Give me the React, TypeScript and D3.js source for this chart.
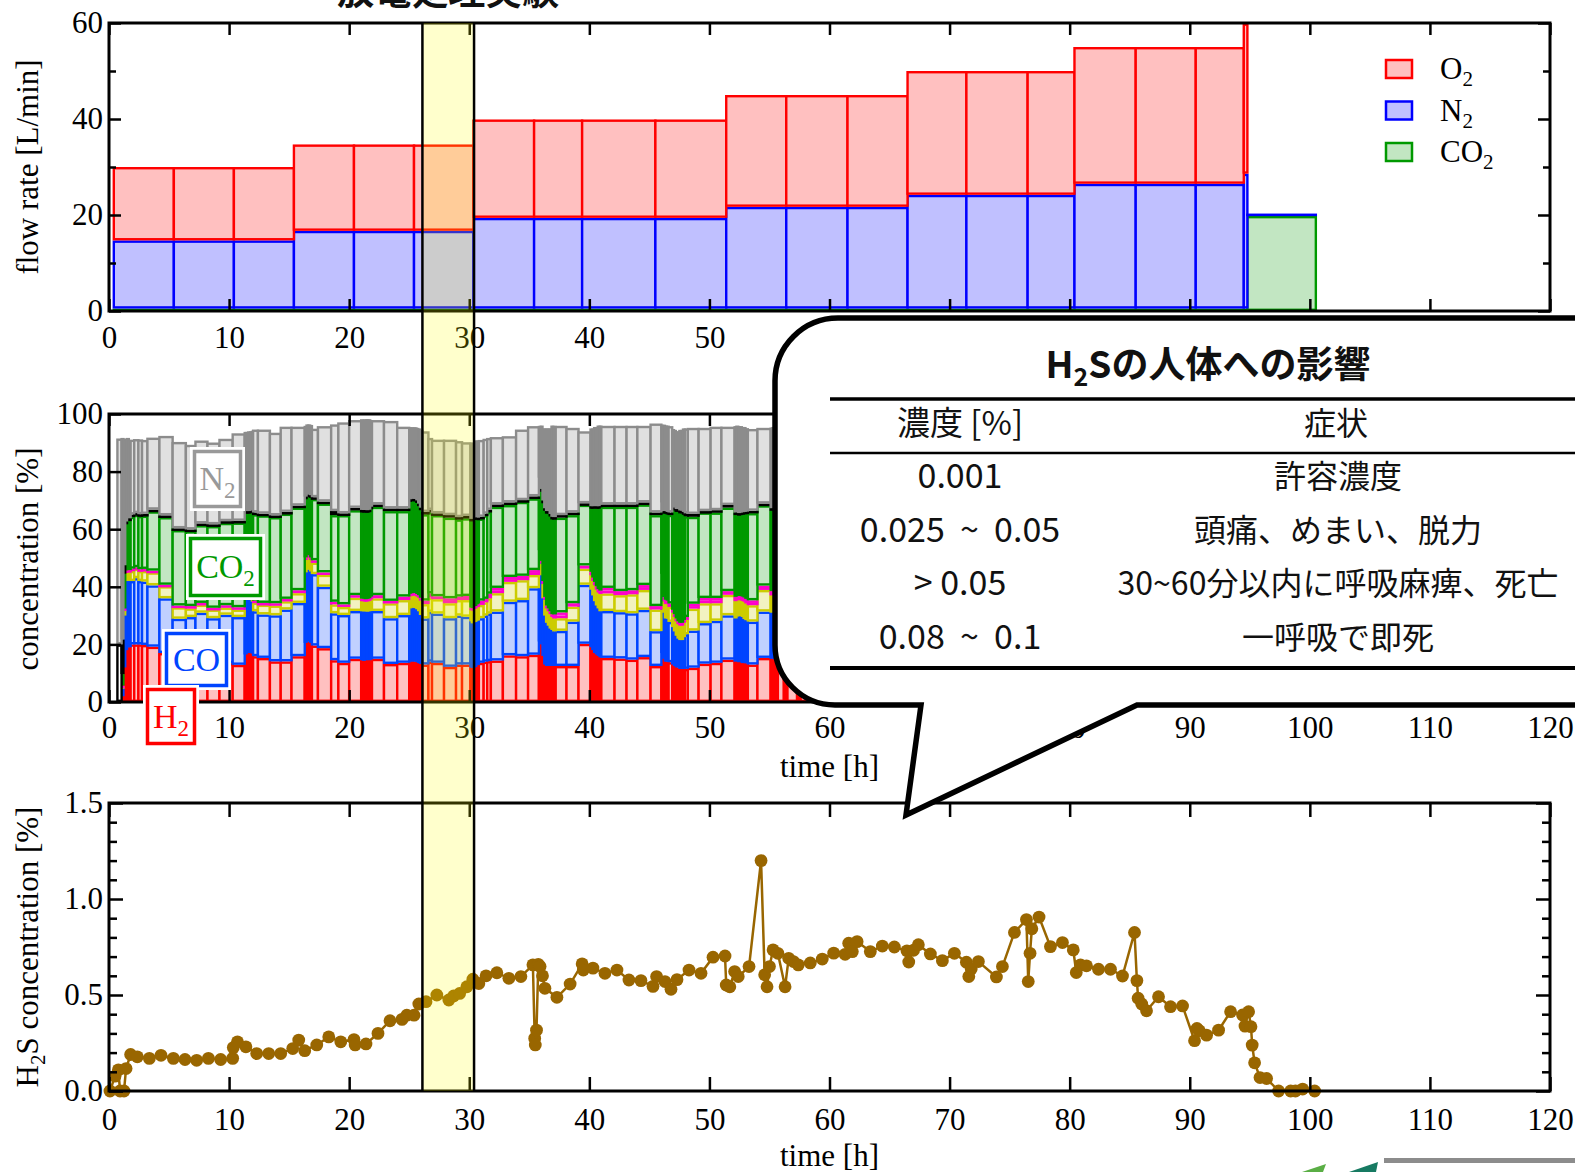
import React, { useEffect, useRef } from 'react';
import * as d3 from 'd3';

const W = 1575;
const H = 1172;

// shared time axis
const xTicks = [0, 10, 20, 30, 40, 50, 60, 70, 80, 90, 100, 110, 120];
const bandStart = 26.1; // discharge treatment experiment
const bandEnd = 30.4;

// --- panel 1: supplied flow rate [L/min], bars between edges ---
const flowEdges = [0.4, 5.4, 10.4, 15.4, 20.4, 25.4, 30.35, 35.4, 39.4, 45.5, 51.4, 56.4, 61.5, 66.5, 71.4, 76.5, 80.4, 85.5, 90.5, 94.5, 94.8, 100.5];
const flowCO2 = [0.5, 0.5, 0.5, 0.5, 0.5, 0.5, 0.5, 0.5, 0.5, 0.5, 0.5, 0.5, 0.5, 0.5, 0.5, 0.5, 0.5, 0.5, 0.5, 0.5, 19.8];
const flowN2 = [14.2, 14.2, 14.2, 16.2, 16.2, 16.2, 18.9, 18.9, 18.9, 18.9, 21.2, 21.2, 21.2, 23.7, 23.7, 23.7, 26, 26, 26, 28.1, 0.5];
const flowO2 = [15.3, 15.3, 15.3, 18, 18, 18, 20.5, 20.5, 20.5, 20.5, 23.3, 23.3, 23.3, 25.8, 25.8, 25.8, 28.5, 28.5, 28.5, 31.3, 0];

// --- panel 2: gas composition [%], each sample lasts until the next one ---
const compTime = [
  0.7, 1.05, 1.2, 1.35, 1.5, 1.65, 1.8, 2.1, 2.45, 2.75,
  3.2, 4.2, 5.3, 6.4, 7.2, 8.2, 9.2, 10.3, 11.3, 11.45,
  11.6, 11.75, 11.9, 12.0, 12.4, 13.4, 14.3, 15.2, 16.3, 16.45,
  16.6, 16.75, 16.9, 17.4, 18.5, 19.1, 20.0, 21.0, 21.15, 21.3,
  21.45, 21.6, 21.75, 21.9, 22.9, 24.0, 25.0, 25.15, 25.3, 25.45,
  25.6, 25.75, 25.9, 26.1, 26.6, 26.9, 27.9, 28.9, 29.4, 30.1,
  30.22, 30.34, 30.46, 30.58, 30.7, 30.8, 31.2, 31.5, 31.8, 32.8,
  33.9, 34.9, 35.8, 35.95, 36.1, 36.25, 36.4, 36.55, 36.7, 36.85,
  37.0, 37.2, 38.1, 39.1, 40.1, 40.25, 40.4, 40.55, 40.7, 40.85,
  41.0, 42.1, 43.1, 44.0, 45.1, 46.0, 46.15, 46.3, 46.45, 46.6,
  46.9, 47.05, 47.2, 47.35, 47.5, 47.65, 47.8, 47.95, 48.2, 49.1,
  50.1, 51.0, 52.1, 52.25, 52.4, 52.55, 52.7, 52.85, 53.0, 53.2,
  54.0, 55.1, 55.25, 55.4, 55.55, 55.7, 56.2, 56.35, 56.5, 57.3,
  57.45, 57.6,
];
const compEnd = 58.6;
const compH2 = [
  0, 2, 12, 18, 19, 19, 20, 20, 20, 19.8,
  19.2, 17, 13.5, 14, 14, 13, 13.5, 12.9, 16.5, 17,
  17, 17.2, 16.8, 15.9, 15.3, 14.1, 14.1, 15.9, 20.5, 21,
  21, 20.5, 19.6, 18.7, 14.5, 13.6, 15, 14.5, 14.3, 14.5,
  14.6, 14.5, 14.8, 15, 13.2, 13.6, 14, 14.2, 14, 14.1,
  13.8, 13.5, 13.2, 13, 14, 13.6, 12.2, 13, 13, 12,
  11.8, 11.9, 12.2, 12.8, 12.9, 13.6, 14, 14.2, 14.4, 16.2,
  15.9, 16.4, 21, 20, 16, 13, 12.5, 12.5, 12.5, 12.5,
  12.5, 12.5, 12.5, 20.2, 19, 18, 17, 16.5, 16, 15.5,
  15.3, 15.1, 14.7, 15.6, 12.5, 17, 15, 14, 14, 13.8,
  13, 12.5, 12, 12, 11.5, 11.5, 11.5, 11.5, 11.9, 13.3,
  13.6, 14.7, 14, 14.2, 13.8, 14, 13.5, 13.8, 13.4, 13,
  15.3, 15, 15.2, 14.8, 15, 15.4, 14.5, 14.8, 15, 14.6,
  14.9, 15.1,
];
const compCO = [
  0, 3, 18, 24, 24, 23, 22, 23, 22, 22,
  21.3, 19, 15.4, 15.5, 17, 16.1, 16.8, 16.6, 19, 18.5,
  18.5, 18.3, 18, 15.6, 15.1, 16, 18, 18.5, 24.5, 25,
  25, 24.8, 24.8, 21.3, 16.3, 16.6, 16.6, 17, 17.2, 17,
  16.8, 17, 16.8, 16.6, 15.9, 16.6, 18.5, 18.6, 18.8, 18.5,
  18.4, 18, 17, 16, 17.3, 17.1, 16.9, 17, 16.6, 16,
  15.5, 15.8, 15.6, 15.5, 15.4, 15.5, 16, 16.5, 17, 18.6,
  19.5, 23.1, 27.7, 24, 20, 17, 15, 14, 13, 12.5,
  12, 12.2, 15.4, 20.5, 20, 19, 18, 17, 16.5, 16,
  16.3, 16.1, 16.1, 16.4, 12.1, 22, 16, 15, 15, 14,
  13, 12, 11, 10, 10, 10, 11, 12, 12.9, 14.1,
  14.6, 15.4, 15, 15.5, 16, 17, 16, 15, 15, 14.9,
  16.1, 16, 16.2, 16, 15.8, 16, 16.5, 16.2, 16, 16.4,
  16, 16.2,
];
const compCH4 = [
  0, 0.5, 2, 3, 3, 3, 3.5, 3.3, 3.5, 3.7,
  4.5, 4.2, 4, 3, 2.8, 3, 2.5, 2.6, 2, 2,
  2.2, 2.2, 2.5, 3, 3.4, 3.4, 2.9, 3.4, 4.6, 4.6,
  4.4, 4.2, 4, 4.2, 3.1, 2.8, 4.6, 3.5, 3.5, 3.3,
  3.5, 3.6, 4, 4.4, 5.2, 5.2, 4.5, 4.4, 4.5, 4.6,
  4.6, 4.8, 5, 5, 4.9, 5, 5.2, 5.4, 5.8, 4,
  4.5, 4.8, 4.6, 4.6, 4.7, 4.6, 4.6, 5.3, 6.4, 6.9,
  6.9, 4.6, 3, 4, 5, 5.5, 5, 5, 5, 4.5,
  4.5, 4.4, 5.2, 5.6, 5, 5, 5.5, 5.5, 5.5, 6,
  6.1, 5.9, 6.6, 6.9, 7.5, 4, 4, 5, 5, 5.2,
  5, 5, 5, 5, 5, 5, 5, 5, 7.6, 6.9,
  6.1, 7.1, 6, 5.8, 5.5, 5, 5.6, 6, 5.8, 5.7,
  7.5, 6, 6, 6.2, 6, 6.4, 6, 6, 6.5, 6.2,
  6.1, 6,
];
const compCnHm = [
  0, 0.2, 0.5, 0.7, 0.7, 0.8, 0.8, 0.5, 0.6, 0.7,
  0.6, 0.5, 0.6, 0.8, 0.6, 0.6, 0.8, 0.8, 0.5, 0.5,
  0.5, 0.5, 0.6, 0.7, 0.6, 0.8, 0.8, 1, 0.6, 0.6,
  0.6, 0.7, 0.8, 0.8, 0.9, 0.9, 0.9, 0.9, 0.9, 0.9,
  0.9, 0.9, 1, 1.1, 0.8, 1.2, 0.6, 0.6, 0.6, 0.7,
  0.7, 0.8, 1, 1.2, 1.5, 1, 1.7, 1.2, 1.4, 0.8,
  0.8, 0.8, 0.9, 1, 1.2, 1.5, 1.2, 1.6, 1.8, 1.7,
  1.5, 1.7, 1, 1, 1, 1, 1, 1, 1, 1,
  1.4, 2, 1.2, 1.1, 1.2, 1.2, 1.2, 1.2, 1.2, 1.2,
  1.9, 1.4, 1.4, 1.7, 1.2, 1.5, 1.5, 1.5, 1.2, 1.2,
  1, 1, 1, 1, 1, 1, 1, 1, 1.7, 1.8,
  1.8, 1.3, 1.5, 1.5, 1.5, 1.5, 1.5, 1.5, 1.6, 1.7,
  1.5, 1.5, 1.5, 1.5, 1.5, 1.5, 1.5, 1.5, 1.5, 1.4,
  1.5, 1.5,
];
const compCO2 = [
  0, 4, 12, 16, 17, 17, 18, 18.2, 18.5, 18.5,
  20.6, 23.5, 26.2, 26, 27, 28.4, 28.6, 29.4, 27.5, 27.5,
  27.3, 27.5, 28, 30, 30.4, 29.9, 29.6, 28.7, 20.5, 20.2,
  20.6, 21, 21.3, 23.9, 30.1, 31, 29.5, 30, 30, 30.2,
  30, 30, 30.4, 30.7, 31.2, 29.7, 32, 32, 32, 31.8,
  31.7, 31, 30.5, 30, 28.2, 28.2, 28, 26.8, 27, 30,
  30.4, 30, 30.2, 29.5, 29, 28.5, 29, 28.4, 28.2, 25,
  25.7, 24.9, 24.5, 24, 27, 30, 32, 33, 33, 33,
  33, 32.9, 30.6, 21.1, 22, 24, 26, 27, 28, 29,
  28.2, 29.3, 29, 28, 31.6, 24, 29, 30, 30, 30.8,
  35, 36, 37, 38, 38, 38, 36.5, 35, 30.2, 29.7,
  29.7, 29, 28.5, 28.2, 28, 27.5, 28.5, 29, 29.5, 30.3,
  27.9, 28, 27.8, 28, 28.2, 28, 28, 28, 28, 28.4,
  28.1, 28,
];
const compO2 = [
  20, 12, 3, 1, 1, 1, 0.8, 0.6, 0.6, 0.6,
  0.6, 0.6, 0.6, 0.6, 0.6, 0.6, 0.6, 0.6, 0.8, 0.8,
  0.8, 0.8, 0.8, 0.6, 0.6, 0.6, 0.6, 0.7, 0.6, 0.6,
  0.6, 0.6, 0.6, 0.7, 1.4, 0.6, 0.8, 0.8, 0.8, 0.8,
  0.8, 0.8, 0.8, 0.8, 0.9, 0.9, 0.8, 0.8, 0.8, 0.8,
  0.8, 0.8, 0.8, 0.8, 0.8, 0.6, 0.9, 0.8, 0.8, 0.8,
  0.8, 0.8, 0.8, 0.8, 0.8, 0.6, 0.6, 0.7, 0.8, 0.9,
  0.6, 0.7, 0.7, 1, 1, 0.8, 0.8, 0.8, 0.8, 0.8,
  0.8, 0.9, 0.9, 0.5, 0.8, 0.8, 0.8, 0.8, 0.8, 0.8,
  0.8, 0.8, 0.8, 0.7, 0.9, 0.8, 0.8, 0.8, 0.8, 0.8,
  0.8, 1, 1, 1, 1, 1, 1, 1, 1, 0.5,
  0.8, 0.9, 0.8, 0.8, 0.8, 0.8, 0.8, 0.8, 0.8, 0.8,
  0.6, 0.8, 0.8, 0.8, 0.8, 0.8, 0.8, 0.8, 0.8, 0.8,
  0.8, 0.8,
];
const compN2 = [
  71.5, 70, 44, 28, 27, 27, 26, 25.7, 26, 25.7,
  25, 27.6, 30, 29.4, 28.8, 28.4, 28.6, 30.4, 27.5, 27.5,
  27.7, 27.5, 27.5, 28.8, 29.2, 28.7, 29.6, 27.4, 24.6, 24.4,
  24.2, 24.4, 23.8, 26.2, 30.1, 31.6, 30.5, 31.5, 31.3, 31.5,
  31.6, 31.4, 30, 29.3, 30.4, 28.4, 25, 24.8, 24.7, 24.9,
  25.2, 26.1, 27, 28, 25, 25.6, 26.2, 26.4, 25.6, 26.4,
  26.2, 26, 26.5, 26.6, 26.8, 26.7, 26, 25, 23.4, 23,
  24.5, 24.4, 18, 22, 25, 27.7, 28.7, 28.7, 29.7, 31.7,
  31.7, 31, 29.4, 25, 27, 27, 27, 27.5, 28, 27.5,
  27.3, 27.3, 27.3, 26.6, 30.9, 27, 30, 29.7, 30, 30,
  27, 27, 27, 27, 28, 28, 29, 29.5, 29.9, 28.9,
  29, 27.2, 30, 30, 30.2, 30, 29.6, 29.4, 29, 28.4,
  26.3, 28, 28, 28, 28, 27.4, 28, 28, 27.5, 27.6,
  27.9, 27.8,
];

// --- panel 3: H2S concentration [%] ---
const h2sTime = [
  0.08, 0.5, 0.78, 0.92, 1.25, 1.42, 1.8, 2.36, 3.36, 4.33,
  5.36, 6.33, 7.3, 8.28, 9.3, 10.3, 10.35, 10.7, 11.4, 12.3,
  13.3, 14.3, 15.3, 15.8, 16.3, 17.3, 18.3, 19.3, 20.4, 20.5,
  21.4, 22.4, 23.4, 24.4, 24.8, 25.4, 25.8, 26.4, 27.3, 28.3,
  28.7, 29.2, 29.8, 30.3, 30.8, 31.4, 32.3, 33.3, 34.3, 35.3,
  35.45, 35.5, 35.6, 35.75, 35.9, 36.1, 36.3, 37.3, 38.4, 39.4,
  39.5, 40.3, 41.3, 42.3, 43.3, 44.3, 45.3, 45.6, 46.3, 46.8,
  47.3, 48.3, 49.3, 50.3, 51.3, 51.4, 51.7, 52.1, 52.4, 53.3,
  54.3, 54.6, 54.8, 55.0, 55.3, 55.7, 56.3, 56.6, 57.0, 57.4,
  58.4, 59.4, 60.35, 61.3, 61.6, 61.9, 62.3, 63.4, 64.4, 65.4,
  66.45, 66.6, 67.0, 67.4, 68.4, 69.4, 70.4, 71.4, 71.6, 71.8,
  72.4, 73.9, 74.4, 75.4, 76.4, 76.55, 76.7, 76.85, 77.45, 78.4,
  79.4, 80.3, 80.55, 80.9, 81.4, 82.4, 83.4, 84.4, 85.4, 85.6,
  85.7, 86.0, 86.4, 87.4, 88.4, 89.4, 90.4, 90.6, 90.8, 91.4,
  92.4, 93.4, 94.4, 94.6, 94.9, 95.1, 95.2, 95.4, 95.85, 96.4,
  97.4, 98.4, 98.8, 99.4, 100.4,
];
const h2sValue = [
  0, 0.077, 0.11, 0, 0, 0.117, 0.19, 0.178, 0.17, 0.186,
  0.17, 0.164, 0.16, 0.17, 0.164, 0.17, 0.226, 0.256, 0.23, 0.195,
  0.195, 0.195, 0.221, 0.265, 0.21, 0.24, 0.282, 0.256, 0.268, 0.24,
  0.245, 0.3, 0.366, 0.373, 0.395, 0.395, 0.453, 0.465, 0.5, 0.474,
  0.495, 0.508, 0.543, 0.582, 0.56, 0.6, 0.616, 0.587, 0.596, 0.657,
  0.274, 0.24, 0.317, 0.66, 0.648, 0.6, 0.535, 0.488, 0.557, 0.662,
  0.63, 0.64, 0.613, 0.63, 0.578, 0.575, 0.545, 0.596, 0.57, 0.53,
  0.58, 0.63, 0.613, 0.697, 0.703, 0.552, 0.543, 0.622, 0.596, 0.648,
  1.2, 0.605, 0.543, 0.648, 0.735, 0.717, 0.543, 0.691, 0.674, 0.657,
  0.667, 0.687, 0.718, 0.712, 0.77, 0.726, 0.778, 0.726, 0.755, 0.75,
  0.73, 0.672, 0.733, 0.762, 0.714, 0.679, 0.717, 0.671, 0.596, 0.635,
  0.674, 0.594, 0.648, 0.826, 0.893, 0.57, 0.717, 0.845, 0.906, 0.752,
  0.773, 0.735, 0.617, 0.657, 0.652, 0.634, 0.634, 0.599, 0.826, 0.575,
  0.483, 0.453, 0.418, 0.491, 0.439, 0.443, 0.262, 0.326, 0.314, 0.291,
  0.317, 0.413, 0.396, 0.338, 0.413, 0.335, 0.239, 0.147, 0.07, 0.065,
  0, 0, 0, 0.01, 0,
];

// callout table (non-breaking spaces keep the wide gaps around "~")
const tableHead = ['濃度 [%]', '症状'];
const tableConc = ['0.001', '0.025\u00a0\u00a0~\u00a0\u00a00.05', '>\u00a00.05', '0.08\u00a0\u00a0~\u00a0\u00a00.1'];
const tableEffect = ['許容濃度', '頭痛、めまい、脱力', '30~60分以内に呼吸麻痺、死亡', '一呼吸で即死'];

const serif = '"Liberation Serif", "Times New Roman", serif';
const jp = '"Noto Sans CJK JP", "Noto Sans CJK SC", sans-serif';

const flowStyle: Record<string, { fill: string; stroke: string }> = {
  CO2: { fill: '#c2e6c2', stroke: '#009900' },
  N2: { fill: '#c0c0ff', stroke: '#0000ff' },
  O2: { fill: '#ffc0c0', stroke: '#ff0000' },
};
const compStyle: Record<string, { fill: string; stroke: string }> = {
  H2: { fill: '#ffc0c0', stroke: '#ff0000' },
  CO: { fill: '#c0d0ff', stroke: '#0044ff' },
  CH4: { fill: '#f2f2c0', stroke: '#cccc00' },
  CnHm: { fill: '#ff66dd', stroke: '#ff00cc' },
  CO2: { fill: '#c2e6c2', stroke: '#009900' },
  O2: { fill: '#ffffff', stroke: '#000000' },
  N2: { fill: '#e0e0e0', stroke: '#8c8c8c' },
};

// text with subscript parts: [text, isSub]
const subText = (sel: any, parts: [string, boolean][], subSize: number, shift: number) => {
  let down = false;
  parts.forEach(([t, sub]) => {
    const ts = sel.append('tspan').text(t);
    if (sub && !down) { ts.attr('dy', shift).attr('font-size', subSize); down = true; }
    else if (!sub && down) { ts.attr('dy', -shift); down = false; }
  });
};

const App: React.FC = () => {
  const ref = useRef<SVGSVGElement>(null);

  useEffect(() => {
    const svg = d3.select(ref.current);
    svg.selectAll('*').remove();

    const x = d3.scaleLinear().domain([0, 120]).range([109, 1550]);
    const yFlow = d3.scaleLinear().domain([0, 60]).range([311, 23]);
    const yComp = d3.scaleLinear().domain([0, 100]).range([702, 414]);
    const yH2S = d3.scaleLinear().domain([0, 1.5]).range([1091, 803]);

    svg.append('rect').attr('width', W).attr('height', H).attr('fill', '#fff');

    // stacked bars; each layer is inset by half a stroke so thin layers still show their edge colour
    const drawStack = (g: any, stacked: any[], y: any, styles: any) => {
      stacked.forEach((layer) => {
        const st = styles[layer.key];
        g.append('g').attr('fill', st.fill).attr('stroke', st.stroke).attr('stroke-width', 2.4)
          .selectAll('rect').data(layer.filter((d: any) => d[1] - d[0] > 0)).join('rect')
          .attr('x', (d: any) => x(d.data.t0))
          .attr('width', (d: any) => x(d.data.t1) - x(d.data.t0))
          .attr('y', (d: any) => y(d[1]) + 1.2)
          .attr('height', (d: any) => Math.max(0.2, y(d[0]) - y(d[1]) - 2.4));
      });
    };

    const axes = (y: any, major: number[], minor: number[], fmt: any, pad: number, majLen: number, minLen: number) => {
      const g = svg.append('g');
      const [y0, y1] = y.range();
      g.append('g').attr('transform', `translate(0,${y0})`)
        .call(d3.axisBottom(x).tickValues(xTicks).tickSize(-majLen).tickPadding(pad));
      g.append('g').attr('transform', `translate(0,${y1})`)
        .call(d3.axisTop(x).tickValues(xTicks).tickSize(-majLen).tickFormat(() => ''));
      g.append('g').attr('transform', `translate(${x(0)},0)`)
        .call(d3.axisLeft(y).tickValues(major).tickSize(-majLen).tickPadding(6).tickFormat(fmt));
      g.append('g').attr('transform', `translate(${x(120)},0)`)
        .call(d3.axisRight(y).tickValues(major).tickSize(-majLen).tickFormat(() => ''));
      if (minor.length) {
        g.append('g').attr('transform', `translate(${x(0)},0)`)
          .call(d3.axisLeft(y).tickValues(minor).tickSize(-minLen).tickFormat(() => ''));
        g.append('g').attr('transform', `translate(${x(120)},0)`)
          .call(d3.axisRight(y).tickValues(minor).tickSize(-minLen).tickFormat(() => ''));
      }
      g.selectAll('.domain').remove();
      g.selectAll('.tick line').attr('stroke', '#000').attr('stroke-width', 2.5);
      g.selectAll('.tick text').attr('font-family', serif).attr('font-size', 31).attr('fill', '#000');
      g.append('rect').attr('x', x(0)).attr('y', y1).attr('width', x(120) - x(0)).attr('height', y0 - y1)
        .attr('fill', 'none').attr('stroke', '#000').attr('stroke-width', 3);
    };

    const yTitle = (cx: number, cy: number, parts: [string, boolean][]) => {
      const t = svg.append('text').attr('transform', `translate(${cx},${cy}) rotate(-90)`)
        .attr('text-anchor', 'middle').attr('font-family', serif).attr('font-size', 31).attr('fill', '#000');
      subText(t, parts, 21, 7);
    };

    // ---------- panel 1: flow rate ----------
    const flowRows = flowO2.map((_, i) => ({ t0: flowEdges[i], t1: flowEdges[i + 1], CO2: flowCO2[i], N2: flowN2[i], O2: flowO2[i] }));
    const flowStack = d3.stack<any>().keys(['CO2', 'N2', 'O2'])(flowRows);
    drawStack(svg.append('g'), flowStack, yFlow, flowStyle);
    axes(yFlow, [0, 20, 40, 60], [10, 30, 50], (d: number) => d, 15, 12, 7);
    yTitle(38, 167, [['flow rate [L/min]', false]]);

    const legendKeys = ['O2', 'N2', 'CO2'];
    const legendNames: [string, boolean][][] = [[['O', false], ['2', true]], [['N', false], ['2', true]], [['CO', false], ['2', true]]];
    legendKeys.forEach((k, i) => {
      const yy = 60 + i * 41.5;
      svg.append('rect').attr('x', 1386).attr('y', yy).attr('width', 26).attr('height', 18)
        .attr('fill', flowStyle[k].fill).attr('stroke', flowStyle[k].stroke).attr('stroke-width', 2.5);
      const t = svg.append('text').attr('x', 1440).attr('y', yy + 19).attr('font-family', serif)
        .attr('font-size', 31).attr('fill', '#000');
      subText(t, legendNames[i], 21, 7);
    });

    // ---------- panel 2: composition ----------
    const compRows = compTime.map((t, i) => ({
      t0: t, t1: i + 1 < compTime.length ? compTime[i + 1] : compEnd,
      H2: compH2[i], CO: compCO[i], CH4: compCH4[i], CnHm: compCnHm[i], CO2: compCO2[i], O2: compO2[i], N2: compN2[i],
    }));
    const compStack = d3.stack<any>().keys(['H2', 'CO', 'CH4', 'CnHm', 'CO2', 'O2', 'N2'])(compRows);
    drawStack(svg.append('g'), compStack, yComp, compStyle);
    axes(yComp, [0, 20, 40, 60, 80, 100], [], (d: number) => d, 14, 12, 7);
    yTitle(38, 559, [['concentration [%]', false]]);
    svg.append('text').attr('x', x(60)).attr('y', 777).attr('text-anchor', 'middle')
      .attr('font-family', serif).attr('font-size', 31).text('time [h]');

    const gasLabels = [
      { parts: [['N', false], ['2', true]] as [string, boolean][], color: '#999999', bx: 193, by: 450, bw: 49, bh: 58 },
      { parts: [['CO', false], ['2', true]] as [string, boolean][], color: '#009900', bx: 189, by: 537, bw: 73, bh: 60 },
      { parts: [['CO', false]] as [string, boolean][], color: '#0044ff', bx: 165, by: 632, bw: 63, bh: 55 },
      { parts: [['H', false], ['2', true]] as [string, boolean][], color: '#ff0000', bx: 146, by: 688, bw: 50, bh: 57 },
    ];
    gasLabels.forEach((b) => {
      svg.append('rect').attr('x', b.bx - 3).attr('y', b.by - 3).attr('width', b.bw + 6).attr('height', b.bh + 6).attr('fill', '#fff');
      svg.append('rect').attr('x', b.bx + 1.5).attr('y', b.by + 1.5).attr('width', b.bw - 3).attr('height', b.bh - 3)
        .attr('fill', '#fff').attr('stroke', b.color).attr('stroke-width', 3.5);
      const t = svg.append('text').attr('x', b.bx + b.bw / 2).attr('y', b.by + b.bh / 2 + 11)
        .attr('text-anchor', 'middle').attr('font-family', serif).attr('font-size', 34).attr('fill', b.color);
      subText(t, b.parts, 23, 8);
    });

    // ---------- panel 3: H2S ----------
    const h2s = h2sTime.map((t, i) => [t, h2sValue[i]] as [number, number]);
    const line = d3.line<[number, number]>().x((d) => x(d[0])).y((d) => yH2S(d[1]));
    svg.append('path').datum(h2s).attr('d', line).attr('fill', 'none').attr('stroke', '#996600').attr('stroke-width', 2.5);
    svg.append('g').attr('fill', '#996600').selectAll('circle').data(h2s).join('circle')
      .attr('cx', (d) => x(d[0])).attr('cy', (d) => yH2S(d[1])).attr('r', 6.4);
    axes(yH2S, [0, 0.5, 1.0, 1.5], [0.1, 0.2, 0.3, 0.4, 0.6, 0.7, 0.8, 0.9, 1.1, 1.2, 1.3, 1.4], d3.format('.1f'), 17, 14, 8);
    yTitle(38, 947, [['H', false], ['2', true], ['S concentration [%]', false]]);
    svg.append('text').attr('x', x(60)).attr('y', 1166).attr('text-anchor', 'middle')
      .attr('font-family', serif).attr('font-size', 31).text('time [h]');

    // ---------- highlighted discharge period ----------
    const bx0 = x(bandStart), bx1 = x(bandEnd);
    svg.append('rect').attr('x', bx0).attr('y', yFlow(60)).attr('width', bx1 - bx0).attr('height', yH2S(0) - yFlow(60))
      .attr('fill', '#ffff00').attr('fill-opacity', 0.2);
    [bx0, bx1].forEach((bx) => svg.append('line').attr('x1', bx).attr('x2', bx).attr('y1', yFlow(60)).attr('y2', yH2S(0))
      .attr('stroke', '#000').attr('stroke-width', 2.5));
    svg.append('text').attr('x', (bx0 + bx1) / 2).attr('y', 5).attr('text-anchor', 'middle')
      .attr('font-family', jp).attr('font-weight', 700).attr('font-size', 37).attr('fill', '#111').text('放電処理実験');

    // ---------- callout ----------
    svg.append('path')
      .attr('d', 'M1610,318 H838 A63,63 0 0 0 775,381 V645 A60,60 0 0 0 835,705 H921 L906,815 L1137,705 H1610 Z')
      .attr('fill', '#fff').attr('stroke', '#000').attr('stroke-width', 5.5).attr('stroke-linejoin', 'miter');
    const title = svg.append('text').attr('x', 1208).attr('y', 378).attr('text-anchor', 'middle')
      .attr('font-family', jp).attr('font-weight', 700).attr('font-size', 37).attr('fill', '#111');
    subText(title, [['H', false], ['2', true], ['Sの人体への影響', false]], 25, 8);
    svg.append('line').attr('x1', 830).attr('x2', 1580).attr('y1', 399).attr('y2', 399).attr('stroke', '#000').attr('stroke-width', 3.5);
    svg.append('line').attr('x1', 830).attr('x2', 1580).attr('y1', 453).attr('y2', 453).attr('stroke', '#000').attr('stroke-width', 2.5);
    svg.append('line').attr('x1', 830).attr('x2', 1580).attr('y1', 668).attr('y2', 668).attr('stroke', '#000').attr('stroke-width', 4);
    const cellText = (tx: number, ty: number, s: string, size: number) => svg.append('text').attr('x', tx).attr('y', ty)
      .attr('text-anchor', 'middle').attr('font-family', jp).attr('font-size', size).attr('fill', '#111').text(s);
    cellText(960, 435, tableHead[0], 33);
    cellText(1336, 435, tableHead[1], 32);
    tableConc.forEach((s, i) => {
      const ty = 488 + i * 53.7;
      cellText(960, ty, s, 34);
      cellText(1338, ty, tableEffect[i], 32);
    });

    // corner logo fragment
    svg.append('rect').attr('x', 1384).attr('y', 1158).attr('width', 200).attr('height', 5).attr('fill', '#8c8c8c');
    svg.append('path').attr('d', 'M1302,1172 L1326,1164 L1323,1172 Z').attr('fill', '#5aae45');
    svg.append('path').attr('d', 'M1349,1172 L1378,1162 L1376,1172 Z').attr('fill', '#177a62');
  }, []);

  return (
    <svg ref={ref} width={W} height={H} style={{ position: 'absolute', left: 0, top: 0 }} />
  );
};

export default App;
